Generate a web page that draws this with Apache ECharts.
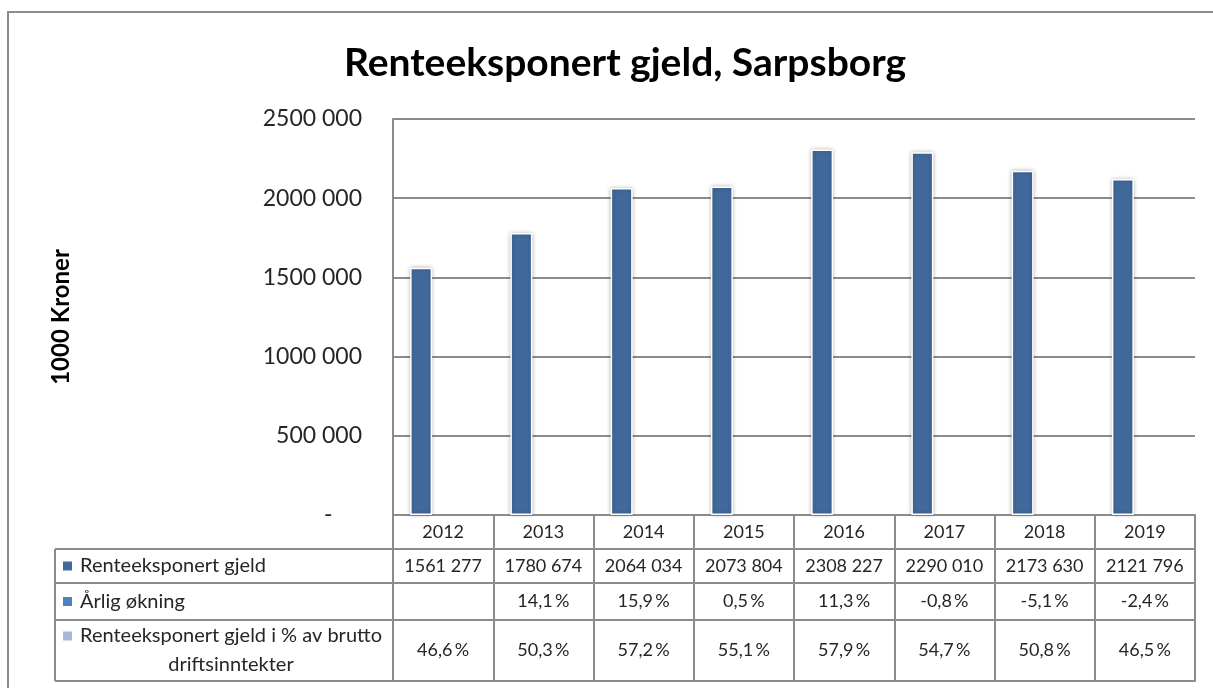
<!DOCTYPE html>
<html>
<head>
<meta charset="utf-8">
<script src="https://cdn.jsdelivr.net/npm/echarts@6/dist/echarts.min.js"></script>
<style>
html,body{margin:0;padding:0;background:#fff;}
#c{width:1213px;height:688px;}
</style>
</head>
<body>
<div id="c"></div>
<script>
var years = ['2012','2013','2014','2015','2016','2017','2018','2019'];
var debt = [1561277, 1780674, 2064034, 2073804, 2308227, 2290010, 2173630, 2121796];
var growth = [null, 14.1, 15.9, 0.5, 11.3, -0.8, -5.1, -2.4];
var pctIncome = [46.6, 50.3, 57.2, 55.1, 57.9, 54.7, 50.8, 46.5];
var seriesNames = ['Renteeksponert gjeld', 'Årlig økning', 'Renteeksponert gjeld i % av brutto driftsinntekter'];
var seriesColors = ['#41699B', '#4F81BD', '#A7B9DA'];

var FONT = 'Lato';
var GRAY = '#8c8c8c';
var TXT = '#262626';

function fmtNum(v) {
  var s = String(Math.round(v));
  if (s.length > 3) return s.slice(0, s.length - 3) + ' ' + s.slice(s.length - 3);
  return s;
}
function fmtPct(v) {
  if (v === null || v === undefined) return '';
  return v.toFixed(1).replace('.', ',') + '\u2009%';
}

var gridLeft = 393, gridTop = 119, gridRight = 1195, gridBottom = 515;
var rowH = [34, 34, 37, 61];

function tableAxis(data, offset, h, fmt) {
  return {
    type: 'category',
    data: data.map(function (v) { return fmt(v); }),
    position: 'bottom',
    offset: offset,
    boundaryGap: true,
    axisLine: { show: true, lineStyle: { color: GRAY, width: 2 } },
    axisTick: { show: true, interval: 0, length: h, alignWithLabel: false, lineStyle: { color: GRAY, width: 2 } },
    axisLabel: { show: true, interval: 0, margin: h / 2, verticalAlign: 'middle', color: TXT, fontFamily: FONT, fontSize: 18 },
    splitLine: { show: false }
  };
}

var chart = echarts.init(document.getElementById('c'), null, { renderer: 'canvas' });

var y0 = gridBottom + rowH[0];
var lineEls = [
  { type: 'line', shape: { x1: 55, y1: y0, x2: gridLeft, y2: y0 } },
  { type: 'line', shape: { x1: 55, y1: y0 + rowH[1], x2: gridLeft, y2: y0 + rowH[1] } },
  { type: 'line', shape: { x1: 55, y1: y0 + rowH[1] + rowH[2], x2: gridLeft, y2: y0 + rowH[1] + rowH[2] } },
  { type: 'line', shape: { x1: 55, y1: y0 + rowH[1] + rowH[2] + rowH[3], x2: gridLeft, y2: y0 + rowH[1] + rowH[2] + rowH[3] } },
  { type: 'line', shape: { x1: 55, y1: y0, x2: 55, y2: y0 + rowH[1] + rowH[2] + rowH[3] } }
];
lineEls.forEach(function (e) { e.style = { stroke: GRAY, lineWidth: 2 }; e.silent = true; });

var cy1 = y0 + rowH[1] / 2;
var cy2 = y0 + rowH[1] + rowH[2] / 2;
var cy3 = y0 + rowH[1] + rowH[2] + rowH[3] / 2;
var lh = 29;
var markerY = [cy1, cy2, cy3 - lh / 2];
var legendEls = [];
for (var i = 0; i < 3; i++) {
  legendEls.push({ type: 'rect', shape: { x: 63, y: markerY[i] - 4.5, width: 9, height: 9 }, style: { fill: seriesColors[i] }, silent: true });
}
legendEls.push({ type: 'text', style: { x: 80, y: cy1, text: seriesNames[0], fill: TXT, font: '20px ' + FONT, textAlign: 'left', textVerticalAlign: 'middle' } });
legendEls.push({ type: 'text', style: { x: 80, y: cy2, text: seriesNames[1], fill: TXT, font: '20px ' + FONT, textAlign: 'left', textVerticalAlign: 'middle' } });
legendEls.push({ type: 'text', style: { x: 231, y: cy3, text: 'Renteeksponert gjeld i % av brutto\ndriftsinntekter', fill: TXT, font: '20px ' + FONT, textAlign: 'center', textVerticalAlign: 'middle', lineHeight: lh } });

var option = {
  animation: false,
  backgroundColor: '#fff',
  title: {
    text: 'Renteeksponert gjeld, Sarpsborg',
    left: 620, top: 39, textAlign: 'center',
    textStyle: { fontFamily: FONT, fontWeight: 'bold', fontSize: 39, color: '#000' }
  },
  grid: { left: gridLeft, top: gridTop, width: gridRight - gridLeft, height: gridBottom - gridTop, containLabel: false },
  xAxis: [
    tableAxis(years, 0, rowH[0], function (v) { return v; }),
    tableAxis(debt, rowH[0], rowH[1], fmtNum),
    tableAxis(growth, rowH[0] + rowH[1], rowH[2], fmtPct),
    tableAxis(pctIncome, rowH[0] + rowH[1] + rowH[2], rowH[3], fmtPct),
    {
      type: 'category', data: years, position: 'bottom',
      offset: rowH[0] + rowH[1] + rowH[2] + rowH[3],
      axisLine: { show: true, lineStyle: { color: GRAY, width: 2 } },
      axisTick: { show: false }, axisLabel: { show: false }
    }
  ],
  yAxis: {
    type: 'value', min: 0, max: 2500000, interval: 500000,
    name: '1000 Kroner', nameLocation: 'middle', nameGap: 320, nameRotate: 90,
    nameTextStyle: { fontFamily: FONT, fontWeight: 'bold', fontSize: 24, color: '#000' },
    axisLine: { show: true, lineStyle: { color: GRAY, width: 2 } },
    axisTick: { show: false },
    axisLabel: {
      margin: 31, color: TXT, fontFamily: FONT, fontSize: 23,
      formatter: function (v) { return v === 0 ? '-     ' : fmtNum(v); }
    },
    splitLine: { show: true, lineStyle: { color: GRAY, width: 2 } }
  },
  series: [
    {
      name: seriesNames[0], type: 'bar', xAxisIndex: 0, data: debt,
      barWidth: 22, barGap: '0%', barCategoryGap: '40%',
      itemStyle: { color: seriesColors[0], borderColor: '#fff', borderWidth: 1.5, shadowColor: 'rgba(0,0,0,0.25)', shadowBlur: 4 }
    },
    {
      name: seriesNames[1], type: 'bar', xAxisIndex: 0, data: growth,
      barWidth: 22, barGap: '0%', itemStyle: { color: seriesColors[1] }
    },
    {
      name: seriesNames[2], type: 'bar', xAxisIndex: 0, data: pctIncome,
      barWidth: 22, barGap: '0%', itemStyle: { color: seriesColors[2] }
    }
  ],
  graphic: [
    { type: 'rect', shape: { x: 8, y: 12, width: 1230, height: 700 }, style: { fill: 'none', stroke: GRAY, lineWidth: 2 }, silent: true, z: -1 }
  ].concat(lineEls).concat(legendEls)
};
chart.setOption(option);
</script>
</body>
</html>
